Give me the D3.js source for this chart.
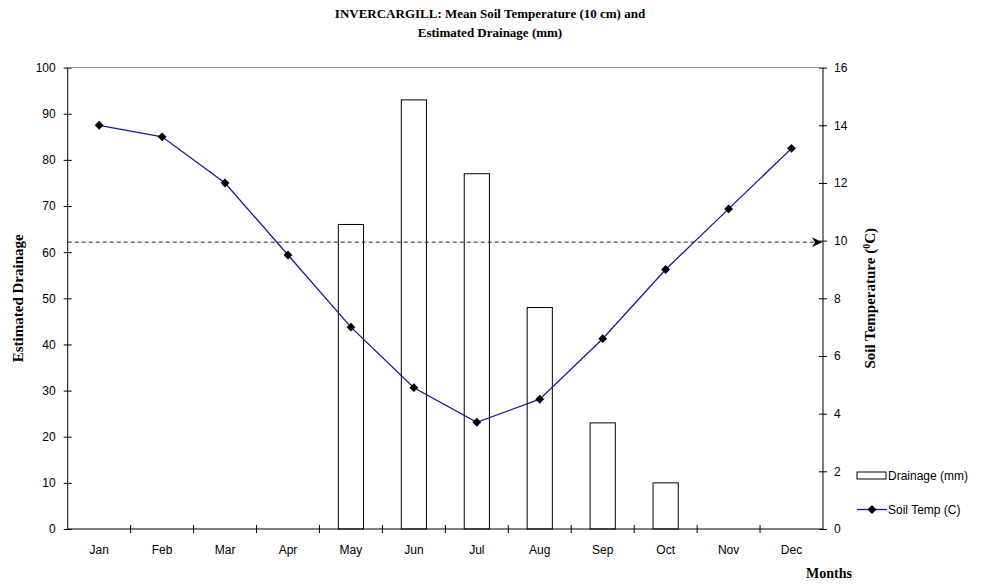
<!DOCTYPE html>
<html>
<head>
<meta charset="utf-8">
<script src="https://cdn.jsdelivr.net/npm/d3@7"></script>
<style>
  body { margin: 0; background: #fff; }
  svg text { font-family: "Liberation Sans", Arial, sans-serif; }
  .serif { font-family: "Liberation Serif", "Times New Roman", serif; font-weight: bold; }
</style>
</head>
<body>
<script>
// datos
var months = ["Jan","Feb","Mar","Apr","May","Jun","Jul","Aug","Sep","Oct","Nov","Dec"]
var drainage = [0, 0, 0, 0, 66, 93, 77, 48, 23, 10, 0, 0]
var soilTemp = [14.0, 13.6, 12.0, 9.5, 7.0, 4.9, 3.7, 4.5, 6.6, 9.0, 11.1, 13.2]
var drainageTicks = [0,10,20,30,40,50,60,70,80,90,100]
var tempTicks = [0,2,4,6,8,10,12,14,16]
var thresholdTemp = 10

var W = 987, H = 587
var margin = { top: 67.6, right: 164, bottom: 58, left: 67.7 }
var width = W - margin.left - margin.right,
    height = H - margin.top - margin.bottom

var svg = d3.select("body").append("svg")
  .attr("width", W).attr("height", H)

var g = svg.append("g")
  .attr("transform", "translate(" + margin.left + "," + margin.top + ")")

// escalas
var x = d3.scaleBand().domain(months).range([0, width])
var yL = d3.scaleLinear().domain([0, 100]).range([height, 0])
var yR = d3.scaleLinear().domain([0, 16]).range([height, 0])

// barras de drenaje
var barW = x.bandwidth() * 0.4
g.append("g").selectAll("rect")
  .data(months.map(function(m, i) { return { m: m, v: drainage[i] } }).filter(function(d) { return d.v > 0 }))
  .enter().append("rect")
  .attr("x", function(d) { return x(d.m) + (x.bandwidth() - barW) / 2 })
  .attr("y", function(d) { return yL(d.v) })
  .attr("width", barW)
  .attr("height", function(d) { return height - yL(d.v) })
  .attr("fill", "#fff")
  .attr("stroke", "#000")
  .attr("stroke-width", 1)

// linea discontinua en 10 C con flecha
svg.append("defs").append("marker")
  .attr("id", "arrow").attr("viewBox", "0 0 10 10")
  .attr("refX", 10).attr("refY", 5)
  .attr("markerWidth", 10).attr("markerHeight", 10)
  .attr("markerUnits", "userSpaceOnUse")
  .attr("orient", "auto")
  .append("path").attr("d", "M0,0 L10,5 L0,10 L3,5 Z").attr("fill", "#000")

g.append("line")
  .attr("x1", 0).attr("x2", width - 1)
  .attr("y1", yR(thresholdTemp) + 1.5).attr("y2", yR(thresholdTemp) + 1.5)
  .attr("stroke", "#222").attr("stroke-width", 1)
  .attr("stroke-dasharray", "4,3")
  .attr("marker-end", "url(#arrow)")

// linea de temperatura
var line = d3.line()
  .x(function(d, i) { return x(months[i]) + x.bandwidth() / 2 })
  .y(function(d) { return yR(d) })

g.append("path").datum(soilTemp)
  .attr("fill", "none")
  .attr("stroke", "#1a1a9a")
  .attr("stroke-width", 1.3)
  .attr("d", line)

var diamond = d3.symbol().type(d3.symbolDiamond2).size(50)
g.append("g").selectAll("path")
  .data(soilTemp).enter().append("path")
  .attr("d", diamond)
  .attr("transform", function(d, i) { return "translate(" + (x(months[i]) + x.bandwidth() / 2) + "," + yR(d) + ")" })
  .attr("fill", "#000")

// ejes
var axL = g.append("g")
  .call(d3.axisLeft(yL).tickValues(drainageTicks).tickSize(4).tickPadding(8))
axL.select(".domain").remove()
axL.selectAll(".tick line").attr("x2", 4).attr("x1", -4)
g.append("line").attr("x1", 0).attr("x2", 0).attr("y1", 0).attr("y2", height).attr("stroke", "#000")

var axR = g.append("g").attr("transform", "translate(" + width + ",0)")
  .call(d3.axisRight(yR).tickValues(tempTicks).tickSize(4).tickPadding(7))
axR.select(".domain").remove()
axR.selectAll(".tick line").attr("x1", -4).attr("x2", 4)
g.append("line").attr("x1", width).attr("x2", width).attr("y1", 0).attr("y2", height).attr("stroke", "#000")

// linea superior del area de grafico
g.append("line").attr("x1", 0).attr("x2", width).attr("y1", 0).attr("y2", 0).attr("stroke", "#888")

var axB = g.append("g").attr("transform", "translate(0," + height + ")")
  .call(d3.axisBottom(x).tickSize(0).tickPadding(16))
axB.select(".domain").remove()
g.append("line").attr("x1", 0).attr("x2", width).attr("y1", height).attr("y2", height).attr("stroke", "#000")
g.append("g").selectAll("line")
  .data(months.slice(1)).enter().append("line")
  .attr("x1", function(d) { return x(d) }).attr("x2", function(d) { return x(d) })
  .attr("y1", height - 4).attr("y2", height + 4)
  .attr("stroke", "#000")

g.selectAll(".tick text").attr("font-size", 12).attr("fill", "#000")
  .style("font-family", "'Liberation Sans', Arial, sans-serif")
g.selectAll(".tick line").attr("stroke", "#000")

// titulos
svg.append("text").attr("class", "serif")
  .attr("x", 490).attr("y", 18).attr("text-anchor", "middle").attr("font-size", 13)
  .text("INVERCARGILL: Mean Soil Temperature (10 cm) and")
svg.append("text").attr("class", "serif")
  .attr("x", 490).attr("y", 37).attr("text-anchor", "middle").attr("font-size", 13)
  .text("Estimated Drainage (mm)")

svg.append("text").attr("class", "serif")
  .attr("transform", "translate(23," + (margin.top + height / 2) + ") rotate(-90)")
  .attr("text-anchor", "middle").attr("font-size", 15)
  .text("Estimated Drainage")

var rl = svg.append("text").attr("class", "serif")
  .attr("transform", "translate(875," + (margin.top + height / 2) + ") rotate(-90)")
  .attr("text-anchor", "middle").attr("font-size", 15)
rl.append("tspan").text("Soil Temperature (")
rl.append("tspan").attr("dy", -5).attr("font-size", 10).text("0")
rl.append("tspan").attr("dy", 5).text("C)")

svg.append("text").attr("class", "serif")
  .attr("x", 829).attr("y", 578).attr("text-anchor", "middle").attr("font-size", 14)
  .text("Months")

// leyenda
var leg = svg.append("g").attr("transform", "translate(857,0)")
leg.append("rect").attr("x", 0).attr("y", 472).attr("width", 29).attr("height", 7)
  .attr("fill", "#fff").attr("stroke", "#000")
leg.append("text").attr("x", 31).attr("y", 480).attr("font-size", 12).text("Drainage (mm)")
leg.append("line").attr("x1", 0).attr("x2", 30).attr("y1", 509.5).attr("y2", 509.5)
  .attr("stroke", "#1a1a9a").attr("stroke-width", 1.3)
leg.append("path").attr("d", diamond).attr("transform", "translate(15,509.5)").attr("fill", "#000")
leg.append("text").attr("x", 31).attr("y", 514).attr("font-size", 12).text("Soil Temp (C)")
</script>
</body>
</html>
